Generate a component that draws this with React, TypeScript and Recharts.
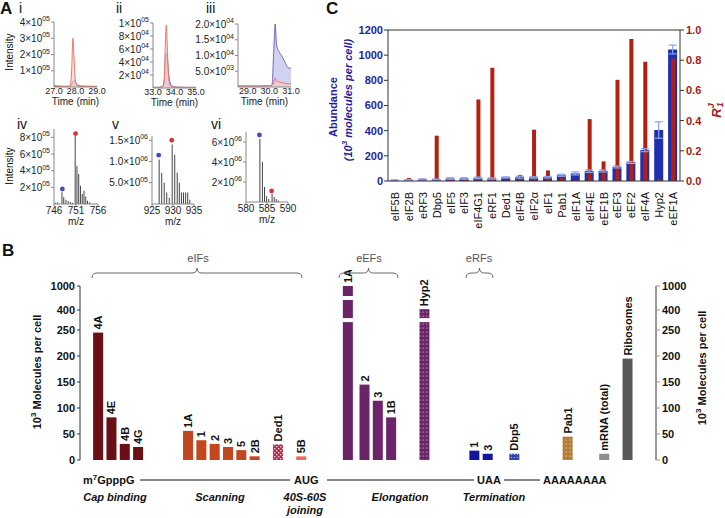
import React from "react";
import {
  AreaChart,
  Area,
  ComposedChart,
  Bar,
  Line,
  Scatter,
  XAxis,
  YAxis,
  ErrorBar,
  Cell,
  LabelList,
  ReferenceLine,
} from "recharts";

const FONT = '"Liberation Sans", Arial, Helvetica, sans-serif';

// ---------- panel A: extracted ion chromatograms (i-iii)
const timeI = [27.0, 27.3, 27.6, 27.75, 27.82, 27.88, 27.94, 28.0, 28.1, 28.25, 28.5, 29.0];
const redI = [3e3, 3e3, 3e3, 5e3, 1.0e5, 3.0e5, 1.6e5, 3e4, 8e3, 4e3, 3e3, 3e3];
const blueI = [8e3, 5e3, 4e3, 5e3, 1.5e4, 3.5e4, 4.2e4, 3e4, 1.2e4, 6e3, 5e3, 4e3];

const timeII = [33.0, 33.3, 33.45, 33.52, 33.57, 33.62, 33.67, 33.73, 33.8, 33.9, 34.1, 34.5, 35.0];
const redII = [1e3, 1e3, 2e3, 1e4, 6.5e4, 9.7e4, 6.0e4, 1.5e4, 4e3, 1.5e3, 1e3, 1e3, 1e3];
const blueII = [1e3, 1e3, 3e3, 1.2e4, 4.0e4, 5.4e4, 4.4e4, 2.0e4, 8e3, 3e3, 1.5e3, 1e3, 1e3];

const timeIII = [28.55, 29.0, 29.5, 30.0, 30.12, 30.2, 30.27, 30.33, 30.44, 30.56, 30.7, 30.9, 31.0];
const blueIII = [300, 300, 300, 400, 600, 1.1e4, 2.0e4, 1.35e4, 1.13e4, 1.0e4, 8.2e3, 6.0e3, 6.0e3];
const redIII = [300, 300, 300, 400, 600, 1.3e3, 2.9e3, 1.9e3, 1.6e3, 1.4e3, 1.2e3, 1.0e3, 1.0e3];

// ---------- panel A: mass spectra (iv-vi)
const mzIV = [746.4, 746.9, 747.9, 748.3, 748.8, 749.3, 749.8, 750.3, 750.9, 751.3, 751.7, 752.1, 752.5, 752.9, 753.3, 753.7, 754.2];
const intIV = [1.5e4, 2e4, 1.4e5, 8e4, 5e4, 3.5e4, 2.5e4, 1.5e4, 8.2e5, 4.6e5, 3.6e5, 2.2e5, 1.2e5, 1.6e5, 9e4, 4e4, 2e4];
const dotsIV = { blue: [747.9, 1.8e5], red: [750.9, 8.45e5] };

const mzV = [926.6, 927.2, 927.8, 928.4, 929.0, 929.7, 930.3, 930.9, 931.4, 931.9, 932.4, 932.9, 933.4, 933.9];
const intV = [1.05e6, 7.3e5, 5e5, 2.7e5, 1.5e5, 1.4e6, 1.16e6, 7.4e5, 5e5, 2.7e5, 2.7e5, 2.7e5, 2.7e5, 1e5];
const dotsV = { blue: [926.6, 1.15e6], red: [929.7, 1.5e6] };

const mzVI = [583.2, 583.8, 584.3, 584.8, 585.3, 586.1, 586.6, 587.1, 587.6];
const intVI = [6.3e6, 4.0e6, 1.5e6, 6e5, 3e5, 8e5, 5e5, 3e5, 1.5e5];
const dotsVI = { blue: [583.2, 6.7e6], red: [586.1, 1.1e6] };

// ---------- panel C
const cNames = ["eIF5B", "eIF2B", "eRF3", "Dbp5", "eIF5", "eIF3", "eIF4G1", "eRF1", "Ded1", "eIF4B", "eIF2\u03b1", "eIF1", "Pab1", "eIF1A", "eIF4E", "eEF1B", "eEF3", "eEF2", "eIF4A", "Hyp2", "eEF1A"];
const cAbund = [5, 8, 12, 12, 20, 20, 25, 20, 28, 30, 28, 30, 45, 60, 78, 80, 112, 147, 245, 405, 1045];
const cErr = [3, 4, 5, 4, 6, 6, 6, 5, 5, 8, 6, 6, 8, 12, 10, 8, 8, 8, 12, 65, 35];
const cRj = [0.01, 0.02, 0.015, 0.3, 0.015, 0.015, 0.54, 0.75, 0.005, 0.04, 0.34, 0.07, 0.02, 0.005, 0.41, 0.13, 0.67, 0.94, 0.79, 0.015, 0.81];
const cLeftTicks = [0, 200, 400, 600, 800, 1000, 1200];
const cRightTicks = [0, 0.2, 0.4, 0.6, 0.8, 1.0];

// ---------- panel B
const bLabels = ["4A", "4E", "4B", "4G", "1A", "1", "2", "3", "5", "2B", "Ded1", "5B", "1A", "2", "3", "1B", "Hyp2", "1", "3", "Dbp5", "Pab1", "mRNA (total)", "Ribosomes"];
const bValues = [245, 82, 31, 25, 56, 38, 31, 25, 19, 7, 30, 7, 1000, 145, 114, 82, 420, 18, 12, 12, 45, 12, 195];
const bKinds = ["cap", "cap", "cap", "cap", "scan", "scan", "scan", "scan", "scan", "scan", "ded1", "join", "elong", "elong", "elong", "elong", "hyp2", "erf", "erf", "dbp5", "pab1", "mrna", "ribo"];
// slot of each bar along the pathway axis (category index)
const bSlots = [5, 9, 13, 17, 32, 36, 40, 44, 48, 52, 59, 66, 80, 85, 89, 93, 103, 118, 122, 130, 146, 157, 164];
const B_SLOTS = 173;
const bTickValues = [0, 50, 100, 150, 200, 250, 400, 1000];

const bFill: Record<string, string> = {
  cap: "#6a0f16",
  scan: "#c2461f",
  ded1: "url(#pDed1)",
  join: "#ea6b5f",
  elong: "#6c2468",
  hyp2: "url(#pHyp2)",
  erf: "#16169a",
  dbp5: "url(#pDbp5)",
  pab1: "url(#pPab1)",
  mrna: "#8e8e8e",
  ribo: "#595959",
};

// broken axis: 0-250 linear, then compressed 250-400 and 400-1000
function toDisp(v: number) {
  if (v <= 250) return v;
  if (v <= 400) return 250 + ((v - 250) * 38.5) / 150;
  return 288.5 + ((v - 400) * 46.1) / 600;
}
const B_TOP = toDisp(1000);
const B_BREAKS = [269, 311.5];
const B_BAR_W = 10;
const bTickDisp = bTickValues.map(toDisp);

const bRows = Array.from({ length: B_SLOTS }, (_, i) => ({ slot: i, label: "", kind: "", d: null as number | null }));
bSlots.forEach((s, i) => {
  bRows[s] = { slot: s, label: bLabels[i], kind: bKinds[i], d: toDisp(bValues[i]) };
});

const cRows = cNames.map((n, i) => ({ name: n, abund: cAbund[i], err: cErr[i], rj: cRj[i] }));

function SciTick(props: any) {
  const { x, y, payload, dec } = props;
  const v = payload.value as number;
  const e = Math.floor(Math.log10(v) + 1e-9);
  const m = v / Math.pow(10, e);
  return (
    <text x={x} y={y} dy={3.5} textAnchor="end" fontSize={10} fill="#222" fontFamily={FONT}>
      {m.toFixed(dec)}×10
      <tspan fontSize={7} dy={-4.5}>{String(e).padStart(2, "0")}</tspan>
    </text>
  );
}

const YW = 52;
const MT = 8;
const MR = 14;

function Chrom({ f, t, red, blue }: any) {
  const rows = t.map((x: number, i: number) => ({ t: x, red: red[i], blue: blue[i] }));
  const xh = 23;
  return (
    <div style={{ position: "absolute", left: f.left - YW, top: f.top - MT }}>
      <AreaChart width={YW + f.w + MR} height={MT + f.h + xh} data={rows} margin={{ top: MT, right: MR, left: 0, bottom: 0 }}>
        <XAxis
          type="number"
          dataKey="t"
          domain={f.xd}
          ticks={f.xt}
          interval={0}
          height={xh}
          tickLine={false}
          tickSize={0}
          tickMargin={1}
          axisLine={{ stroke: "#888" }}
          tick={{ fontSize: 9, fill: "#222", fontFamily: FONT }}
          tickFormatter={(v: number) => v.toFixed(1)}
          label={{ value: "Time (min)", position: "insideBottom", offset: 5, fontSize: 10, fill: "#222", fontFamily: FONT }}
        />
        <YAxis
          domain={[0, f.ymax]}
          ticks={f.yt}
          interval={0}
          width={YW}
          tickSize={3}
          tickMargin={1}
          axisLine={{ stroke: "#888" }}
          tickLine={{ stroke: "#888" }}
          tick={(p: any) => <SciTick {...p} dec={f.ydec} />}
        />
        <Area type="monotone" dataKey="blue" stroke="#6a6ab8" strokeWidth={1} fill="#c9caee" fillOpacity={0.85} isAnimationActive={false} dot={false} />
        <Area type="monotone" dataKey="red" stroke="#e57a66" strokeWidth={1} fill="#f7cbc2" fillOpacity={0.6} isAnimationActive={false} dot={false} />
      </AreaChart>
    </div>
  );
}

function Spectrum({ f, mz, inten, dots }: any) {
  const rows = mz.map((x: number, i: number) => ({ mz: x, v: inten[i] }));
  const blueDot = [{ mz: dots.blue[0], v: dots.blue[1] }];
  const redDot = [{ mz: dots.red[0], v: dots.red[1] }];
  const xh = 25;
  return (
    <div style={{ position: "absolute", left: f.left - YW, top: f.top - MT }}>
      <ComposedChart width={YW + f.w + MR} height={MT + f.h + xh} data={rows} margin={{ top: MT, right: MR, left: 0, bottom: 0 }}>
        <XAxis
          type="number"
          dataKey="mz"
          domain={f.xd}
          ticks={f.xt}
          interval={0}
          height={xh}
          tickSize={2}
          tickMargin={1}
          axisLine={{ stroke: "#888" }}
          tickLine={{ stroke: "#888" }}
          tick={{ fontSize: 10, fill: "#222", fontFamily: FONT }}
          label={{ value: "m/z", position: "insideBottom", offset: 4, fontSize: 10, fill: "#222", fontFamily: FONT }}
        />
        <YAxis
          dataKey="v"
          domain={[0, f.ymax]}
          ticks={f.yt}
          interval={0}
          width={YW}
          tickSize={3}
          tickMargin={1}
          axisLine={{ stroke: "#888" }}
          tickLine={{ stroke: "#888" }}
          tick={(p: any) => <SciTick {...p} dec={f.ydec} />}
        />
        <Bar dataKey="v" barSize={1} fill="#444" isAnimationActive={false} />
        <Scatter data={blueDot} dataKey="v" isAnimationActive={false} shape={(p: any) => <circle cx={p.cx} cy={p.cy} r={2.4} fill="#3d4fb0" />} />
        <Scatter data={redDot} dataKey="v" isAnimationActive={false} shape={(p: any) => <circle cx={p.cx} cy={p.cy} r={2.4} fill="#d23a30" />} />
      </ComposedChart>
    </div>
  );
}

const frames = {
  i: { left: 54, top: 22, w: 43, h: 65, xd: [27, 29], xt: [27, 28, 29], ymax: 4e5, yt: [1e5, 2e5, 3e5, 4e5], ydec: 0 },
  ii: { left: 153, top: 23, w: 43, h: 65, xd: [33, 35], xt: [33, 34, 35], ymax: 1e5, yt: [2e4, 4e4, 6e4, 8e4, 1e5], ydec: 0 },
  iii: { left: 238, top: 24, w: 53, h: 63, xd: [28.55, 31], xt: [29, 30, 31], ymax: 2e4, yt: [5e3, 1e4, 1.5e4, 2e4], ydec: 1 },
  iv: { left: 54, top: 129, w: 44, h: 75, xd: [746, 756], xt: [746, 751, 756], ymax: 9e5, yt: [2e5, 4e5, 6e5, 8e5], ydec: 0 },
  v: { left: 152, top: 136, w: 42, h: 68, xd: [925, 935], xt: [925, 930, 935], ymax: 1.6e6, yt: [5e5, 1e6, 1.5e6], ydec: 1 },
  vi: { left: 246, top: 132, w: 42, h: 70, xd: [580, 590], xt: [580, 585, 590], ymax: 7e6, yt: [2e6, 4e6, 6e6], ydec: 0 },
};

function CTick(props: any) {
  const { x, y, payload } = props;
  const ty = y + 3;
  return (
    <text x={x} y={ty} transform={`rotate(-90 ${x} ${ty})`} textAnchor="end" dominantBaseline="central" fontSize={11} fill="#111" fontFamily={FONT}>
      {payload.value}
    </text>
  );
}

function BrokenBar(p: any) {
  const { x, y, width, height, fill, payload } = p;
  if (!payload || payload.d == null || !height) return null;
  const ppu = height / payload.d;
  const base = y + height;
  const bx = x + width / 2 - B_BAR_W / 2;
  return (
    <g>
      <rect x={bx} y={y} width={B_BAR_W} height={height} fill={fill} />
      {B_BREAKS.filter((b) => payload.d > b + 3).map((b) => (
        <rect key={b} x={bx - 0.5} y={base - b * ppu - 2} width={B_BAR_W + 1} height={4} fill="#fff" />
      ))}
    </g>
  );
}

function BarLabel(p: any) {
  const vb = p.viewBox || p;
  const x = vb.x ?? p.x;
  const y = vb.y ?? p.y;
  const width = vb.width ?? p.width;
  if (!p.value) return null;
  const cx = x + width / 2;
  const ty = y - 3;
  return (
    <text x={cx} y={ty} transform={`rotate(-90 ${cx} ${ty})`} textAnchor="start" dominantBaseline="central" fontSize={11} fontWeight={700} fill="#111" fontFamily={FONT}>
      {p.value}
    </text>
  );
}

const fmtB = (v: number) => {
  const i = bTickDisp.findIndex((t) => Math.abs(t - v) < 0.01);
  return i >= 0 ? String(bTickValues[i]) : "";
};

function brace(x1: number, x2: number, y: number, h: number) {
  const m = (x1 + x2) / 2;
  return `M${x1},${y + h} Q${x1},${y} ${x1 + h},${y} L${m - h},${y} Q${m},${y} ${m},${y - h} Q${m},${y} ${m + h},${y} L${x2 - h},${y} Q${x2},${y} ${x2},${y + h}`;
}

export default function App() {
  const txt = { fontFamily: FONT, fill: "#111" };
  return (
    <div style={{ position: "absolute", left: 0, top: 0, width: 725, height: 518, background: "#fff", fontFamily: FONT }}>
      <Chrom f={frames.i} t={timeI} red={redI} blue={blueI} />
      <Chrom f={frames.ii} t={timeII} red={redII} blue={blueII} />
      <Chrom f={frames.iii} t={timeIII} red={redIII} blue={blueIII} />
      <Spectrum f={frames.iv} mz={mzIV} inten={intIV} dots={dotsIV} />
      <Spectrum f={frames.v} mz={mzV} inten={intV} dots={dotsV} />
      <Spectrum f={frames.vi} mz={mzVI} inten={intVI} dots={dotsVI} />

      {/* panel C */}
      <div style={{ position: "absolute", left: 300, top: 0 }}>
        <ComposedChart width={425} height={232} data={cRows} margin={{ top: 30, right: 15, left: 0, bottom: 0 }}>
          <XAxis xAxisId="b" dataKey="name" height={51} interval={0} tickLine={false} axisLine={{ stroke: "#333" }} tick={<CTick />} />
          <XAxis xAxisId="r" dataKey="name" hide />
          <YAxis
            yAxisId="l"
            domain={[0, 1200]}
            ticks={cLeftTicks}
            interval={0}
            width={88}
            tickSize={4}
            tickMargin={1}
            axisLine={{ stroke: "#333" }}
            tickLine={{ stroke: "#333" }}
            tick={{ fontSize: 11, fontWeight: 700, fill: "#1f1f99", fontFamily: FONT }}
          />
          <YAxis
            yAxisId="r"
            orientation="right"
            domain={[0, 1]}
            ticks={cRightTicks}
            interval={0}
            width={30}
            tickSize={4}
            tickMargin={2}
            axisLine={{ stroke: "#333" }}
            tickLine={{ stroke: "#333" }}
            tickFormatter={(v: number) => v.toFixed(1)}
            tick={{ fontSize: 11, fontWeight: 700, fill: "#a31a17", fontFamily: FONT }}
          />
          <ReferenceLine xAxisId="b" yAxisId="l" y={1200} stroke="#333" />
          <Bar xAxisId="b" yAxisId="l" dataKey="abund" barSize={9} fill="#1f2fae" isAnimationActive={false}>
            <ErrorBar dataKey="err" width={4} stroke="#8aa4ee" strokeWidth={1.2} direction="y" />
          </Bar>
          <Bar xAxisId="r" yAxisId="r" dataKey="rj" barSize={4} fill="#b3200f" isAnimationActive={false} />
        </ComposedChart>
      </div>

      {/* panel B */}
      <div style={{ position: "absolute", left: 0, top: 270 }}>
        <ComposedChart width={725} height={195} data={bRows} margin={{ top: 16, right: 29, left: 0, bottom: 5 }}>
          <XAxis dataKey="slot" hide />
          <YAxis
            yAxisId="l"
            domain={[0, B_TOP]}
            ticks={bTickDisp}
            interval={0}
            width={80}
            tickSize={3}
            tickMargin={2}
            tickFormatter={fmtB}
            axisLine={{ stroke: "#333" }}
            tickLine={{ stroke: "#333" }}
            tick={{ fontSize: 11, fontWeight: 700, fill: "#111", fontFamily: FONT }}
          />
          <YAxis
            yAxisId="r"
            orientation="right"
            domain={[0, B_TOP]}
            ticks={bTickDisp}
            interval={0}
            width={40}
            tickSize={4}
            tickMargin={2}
            tickFormatter={fmtB}
            axisLine={{ stroke: "#999", strokeWidth: 2 }}
            tickLine={{ stroke: "#999" }}
            tick={{ fontSize: 11, fontWeight: 700, fill: "#111", fontFamily: FONT }}
          />
          <Bar yAxisId="l" dataKey="d" barSize={10} shape={BrokenBar} isAnimationActive={false}>
            {bRows.map((r, i) => (
              <Cell key={i} fill={bFill[r.kind] || "#000"} />
            ))}
            <LabelList dataKey="label" content={BarLabel} />
          </Bar>
          {/* invisible series so the right-hand axis shares the same scale */}
          <Line yAxisId="r" dataKey="d" stroke="none" dot={false} activeDot={false} isAnimationActive={false} />
        </ComposedChart>
      </div>

      {/* annotations */}
      <svg width={725} height={518} style={{ position: "absolute", left: 0, top: 0, pointerEvents: "none" }}>
        <defs>
          <pattern id="pDed1" width={4} height={4} patternUnits="userSpaceOnUse">
            <rect width={4} height={4} fill="#b52a4c" />
            <rect x={0} y={0} width={1.4} height={1.4} fill="#f4c6d0" />
            <rect x={2} y={2} width={1.4} height={1.4} fill="#f4c6d0" />
          </pattern>
          <pattern id="pHyp2" width={3.4} height={4} patternUnits="userSpaceOnUse">
            <rect width={3.4} height={4} fill="#6c2468" />
            <circle cx={1.7} cy={2} r={0.55} fill="#fff" />
          </pattern>
          <pattern id="pDbp5" width={3} height={3} patternUnits="userSpaceOnUse">
            <rect width={3} height={3} fill="#3446a6" />
            <circle cx={1.5} cy={1.5} r={0.6} fill="#c8d0f0" />
          </pattern>
          <pattern id="pPab1" width={4} height={4} patternUnits="userSpaceOnUse">
            <rect width={4} height={4} fill="#b47a38" />
            <circle cx={2} cy={2} r={0.6} fill="#fff" />
          </pattern>
        </defs>

        {/* panel letters */}
        <text x={0} y={14} fontSize={17} fontWeight={700} {...txt}>A</text>
        <text x={326} y={14} fontSize={17} fontWeight={700} {...txt}>C</text>
        <text x={2} y={256} fontSize={17} fontWeight={700} {...txt}>B</text>

        {/* A sub-panel labels */}
        <text x={19} y={13} fontSize={14} {...txt}>i</text>
        <text x={116} y={13} fontSize={14} {...txt}>ii</text>
        <text x={206} y={13} fontSize={14} {...txt}>iii</text>
        <text x={17} y={129} fontSize={14} {...txt}>iv</text>
        <text x={112} y={129} fontSize={14} {...txt}>v</text>
        <text x={211} y={129} fontSize={14} {...txt}>vi</text>
        <text x={9} y={52} transform="rotate(-90 9 52)" textAnchor="middle" dominantBaseline="central" fontSize={10} {...txt}>Intensity</text>
        <text x={9} y={166} transform="rotate(-90 9 166)" textAnchor="middle" dominantBaseline="central" fontSize={10} {...txt}>Intensity</text>

        {/* C axis titles */}
        <text x={333} y={107} transform="rotate(-90 333 107)" textAnchor="middle" dominantBaseline="central" fontSize={11} fontWeight={700} fontFamily={FONT} fill="#1f1f99">Abundance</text>
        <text x={348} y={100} transform="rotate(-90 348 100)" textAnchor="middle" dominantBaseline="central" fontSize={11} fontWeight={700} fontStyle="italic" fontFamily={FONT} fill="#1f1f99">
          (10<tspan fontSize={8} dy={-4}>3</tspan><tspan dy={4}> molecules per cell)</tspan>
        </text>
        <text x={716} y={110} transform="rotate(-90 716 110)" textAnchor="middle" dominantBaseline="central" fontSize={13} fontWeight={700} fontStyle="italic" fontFamily={FONT} fill="#a31a17">
          R<tspan fontSize={9} dy={-5}>J</tspan><tspan fontSize={9} dx={-4} dy={9}>1</tspan>
        </text>

        {/* B braces */}
        <path d={brace(92, 302, 273, 5)} fill="none" stroke="#666" strokeWidth={1} />
        <path d={brace(339, 398, 273, 5)} fill="none" stroke="#666" strokeWidth={1} />
        <path d={brace(466, 493, 273, 5)} fill="none" stroke="#666" strokeWidth={1} />
        <text x={198} y={262} textAnchor="middle" fontSize={11} fontFamily={FONT} fill="#555">eIFs</text>
        <text x={369} y={262} textAnchor="middle" fontSize={11} fontFamily={FONT} fill="#555">eEFs</text>
        <text x={479} y={262} textAnchor="middle" fontSize={11} fontFamily={FONT} fill="#555">eRFs</text>

        {/* B axis titles */}
        <text x={37} y={372} transform="rotate(-90 37 372)" textAnchor="middle" dominantBaseline="central" fontSize={11} fontWeight={700} {...txt}>
          10<tspan fontSize={8} dy={-4}>3</tspan><tspan dy={4}> Molecules per cell</tspan>
        </text>
        <text x={702} y={368} transform="rotate(-90 702 368)" textAnchor="middle" dominantBaseline="central" fontSize={11} fontWeight={700} {...txt}>
          10<tspan fontSize={8} dy={-4}>3</tspan><tspan dy={4}> Molecules per cell</tspan>
        </text>

        {/* pathway */}
        <g fontSize={11} fontWeight={700} fontFamily={FONT} fill="#111">
          <text x={83} y={484}>
            m<tspan fontSize={8} dy={-4}>7</tspan><tspan dy={4}>GpppG</tspan>
          </text>
          <text x={294} y={484}>AUG</text>
          <text x={477} y={484}>UAA</text>
          <text x={543} y={484}>AAAAAAAA</text>
        </g>
        <line x1={140} y1={480} x2={290} y2={480} stroke="#111" strokeWidth={1} />
        <line x1={327} y1={480} x2={474} y2={480} stroke="#111" strokeWidth={1} />
        <line x1={504} y1={480} x2={540} y2={480} stroke="#111" strokeWidth={1} />
        <g fontSize={11} fontWeight={700} fontStyle="italic" fontFamily={FONT} fill="#111" textAnchor="middle">
          <text x={115} y={501}>Cap binding</text>
          <text x={220} y={501}>Scanning</text>
          <text x={305} y={501}>40S-60S</text>
          <text x={305} y={514}>joining</text>
          <text x={400} y={501}>Elongation</text>
          <text x={494} y={501}>Termination</text>
        </g>
      </svg>
    </div>
  );
}
